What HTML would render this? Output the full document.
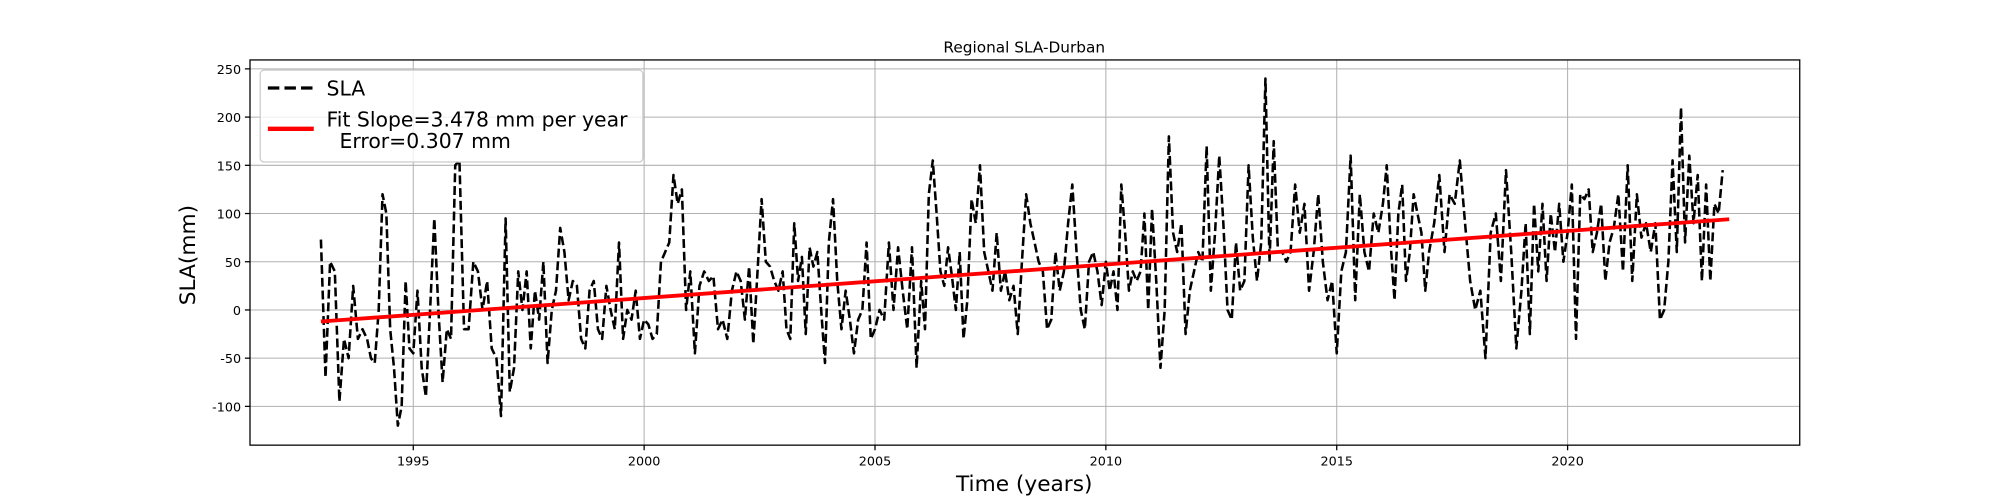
<!DOCTYPE html>
<html><head><meta charset="utf-8">
<style>
html,body{margin:0;padding:0;background:#fff;}
svg{display:block;font-family:"DejaVu Sans","Liberation Sans",sans-serif;}
</style></head>
<body>
<svg id="chart" width="2000" height="500" viewBox="0 0 1568 392" preserveAspectRatio="none" xmlns="http://www.w3.org/2000/svg">
<rect x="0" y="0" width="1568" height="392" fill="#fff"/>
<g id="grid"></g>
<g id="series"></g>
<rect x="196" y="47" width="1215" height="302" fill="none" stroke="#000" stroke-width="1"/>
<g id="ticks"></g>
<text x="803" y="41" font-size="12" text-anchor="middle">Regional SLA-Durban</text>
<text x="803" y="385" font-size="17" text-anchor="middle">Time (years)</text>
<text x="153" y="200" font-size="17" text-anchor="middle" transform="rotate(-90 153 200)">SLA(mm)</text>
<g>
<rect x="204" y="55" width="300" height="72" rx="3" fill="#fff" fill-opacity="0.8" stroke="#ccc"/>
<line x1="210" y1="69" x2="246" y2="69" stroke="#000" stroke-width="2.5" stroke-dasharray="9,4"/>
<text x="256" y="75" font-size="16">SLA</text>
<line x1="210" y1="101" x2="246" y2="101" stroke="#f00" stroke-width="3.5"/>
<text x="256" y="99" font-size="16">Fit Slope=3.478 mm per year</text>
<text x="256" y="116" font-size="16" xml:space="preserve">  Error=0.307 mm</text>
</g>
</svg>
<script>
const yearStarts=[1993,1994,1995,1996,1997,1998,1999,2000,2001,2002,2003,2004,2005,2006,2007,2008,2009,2010,2011,2012,2013,2014,2015,2016,2017,2018,2019,2020,2021,2022,2023];
const yearValues=[
[73,-70,50,40,-95,-30,-50,25,-30,-20],
[-30,-50,-55,0,120,100,-20,-60,-120,-100,30,-40],
[-45,20,-60,-90,0,95,0,-75,-20,-30,150],
[155,-20,-20,50,40,0,30,-40,-50,-110],
[95,-85,-60,40,0,40,-40,20,-10,50,-55],
[0,20,85,60,10,30,25,-30,-40,20,30],
[-20,-30,25,0,-20,70,-30,0,-10,20,-30],
[-10,-15,-30,-25,50,60,70,140,110,125,0],
[40,-45,25,40,30,35,-20,-10,-30,20],
[40,30,-10,45,-35,40,115,50,45,30,20],
[40,-20,-30,90,30,55,-25,65,45,60,0,-55],
[70,115,30,-20,20,-10,-45,-10,0,70,-30],
[-20,0,-10,70,0,65,20,-20,65,-60],
[30,-20,120,155,100,40,25,65,35,0,60,-30],
[10,115,90,150,60,40,20,80,20,40,10],
[25,-25,50,120,90,70,50,40,-20,-10,60],
[20,40,90,130,60,0,-20,50,60,40,5],
[50,20,40,0,130,80,20,40,30,40,100,0],
[105,30,-60,0,180,80,60,90,-25,20,40],
[60,50,170,20,80,160,90,0,-10,70,20],
[30,150,75,30,70,240,50,175,60,60,50],
[60,130,80,110,20,60,120,50,10,30],
[-45,40,60,160,10,120,60,40,100,80],
[110,150,70,10,100,130,30,60,120,100,80,20],
[60,90,140,60,120,110,155,90,30],
[0,20,-50,80,100,30,145,60,-40],
[20,90,-25,110,40,110,30,100,60,110,50],
[80,130,-30,120,115,125,60,80,110,30,70],
[85,120,40,150,30,120,75,90,60,90],
[-10,0,50,155,60,210,70,160,90,140,30],
[130,30,110,100,145]
];
const fitSlope=3.478;
const fitStartYear=1993.0;
const fitStartValue=-12;
const fitEndYear=2023.5;
const xTicks=[1995,2000,2005,2010,2015,2020];
const yTicks=[-100,-50,0,50,100,150,200,250];

const NS="http://www.w3.org/2000/svg";
const L=196,R=1411,T=47,B=349;
function xs(t){return 324+(t-1995)*36.2;}
function ys(v){return 243-v*0.756;}
function mk(tag,attrs,parent){const e=document.createElementNS(NS,tag);for(const k in attrs)e.setAttribute(k,attrs[k]);parent.appendChild(e);return e;}
const grid=document.getElementById('grid'),ticks=document.getElementById('ticks'),series=document.getElementById('series');
xTicks.forEach(t=>{
  const x=xs(t);
  const g=mk('line',{x1:x,y1:T,x2:x,y2:B,stroke:'#b0b0b0','stroke-width':0.8},grid);
  
  
  const tk=mk('line',{x1:x,y1:B,x2:x,y2:B+4,stroke:'#000'},ticks);
  
  
  const tx=mk('text',{x:x,y:B+16,'font-size':10,'text-anchor':'middle'},ticks);
  tx.textContent=t;
  
  
});
yTicks.forEach(v=>{
  const y=ys(v);
  const g=mk('line',{x1:L,y1:y,x2:R,y2:y,stroke:'#b0b0b0','stroke-width':0.8},grid);
  
  
  const tk=mk('line',{x1:L-4,y1:y,x2:L,y2:y,stroke:'#000'},ticks);
  
  
  const tx=mk('text',{x:L-7,y:y+4,'font-size':10,'text-anchor':'end'},ticks);
  tx.textContent=v;
  
  
});
let pts=[];
yearStarts.forEach((yr,i)=>{
  const vals=yearValues[i];
  const span=(yr===2023)?0.45:1;
  vals.forEach((v,j)=>{pts.push([xs(yr+span*j/vals.length),ys(v)]);});
});
const p=mk('polyline',{points:pts.map(q=>q[0].toFixed(1)+','+q[1].toFixed(1)).join(' '),fill:'none',stroke:'#000','stroke-width':2,'stroke-dasharray':'7,3','stroke-linejoin':'round'},series);


const fv=fitStartValue+fitSlope*(fitEndYear-fitStartYear);
const f=mk('line',{x1:xs(fitStartYear),y1:ys(fitStartValue),x2:xs(fitEndYear),y2:ys(fv),stroke:'#f00','stroke-width':3},series);


</script>
</body></html>
